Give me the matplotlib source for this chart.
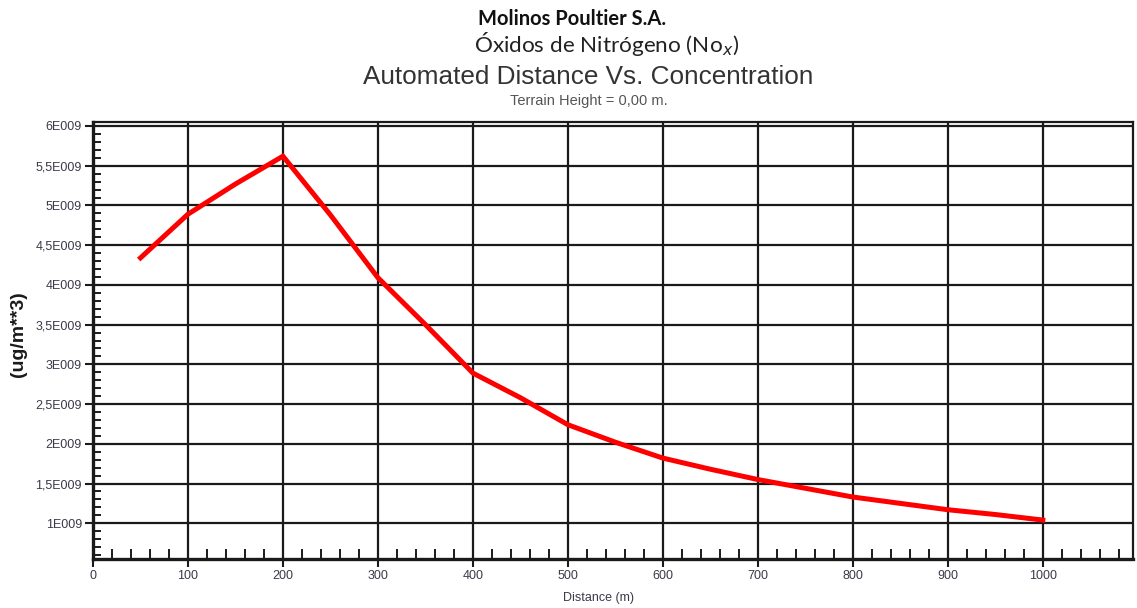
import matplotlib
matplotlib.use("Agg")
import matplotlib.pyplot as plt
from matplotlib.ticker import MultipleLocator, FuncFormatter

# distance (m) and concentration (ug/m**3)
distance = [50, 100, 150, 200, 250, 300, 350, 400, 450, 500,
            550, 600, 650, 700, 750, 800, 850, 900, 950, 1000]
concentration = [4.34e9, 4.89e9, 5.27e9, 5.62e9, 4.88e9, 4.09e9, 3.50e9, 2.89e9, 2.58e9, 2.24e9,
                 2.02e9, 1.82e9, 1.68e9, 1.55e9, 1.44e9, 1.33e9, 1.25e9, 1.17e9, 1.11e9, 1.04e9]

company = "Molinos Poultier S.A."
pollutant = "Óxidos de Nitrógeno (No$_x$)"
title = "Automated Distance Vs. Concentration"
subtitle = "Terrain Height = 0,00 m."

label_col = "#3a3a4a"


def sci_label(v, pos):
    # labels like 5,5E009
    m = v / 1e9
    if abs(m - round(m)) < 1e-6:
        s = "%d" % round(m)
    else:
        s = ("%.1f" % m).replace(".", ",")
    return s + "E009"


fig = plt.figure(figsize=(11.37, 6.08), dpi=100)
ax = fig.add_axes([0.0818, 0.0806, 0.9147, 0.7187])

ax.plot(distance, concentration, color="red", lw=3.6, solid_joinstyle="miter")

ax.set_xlim(0, 1095)
ax.set_ylim(0.55e9, 6.05e9)

ax.xaxis.set_major_locator(MultipleLocator(100))
ax.xaxis.set_minor_locator(MultipleLocator(20))
ax.yaxis.set_major_locator(MultipleLocator(0.5e9))
ax.yaxis.set_minor_locator(MultipleLocator(0.1e9))
ax.yaxis.set_major_formatter(FuncFormatter(sci_label))

ax.grid(True, which="major", color="#1a1a1a", lw=1.6)
ax.set_axisbelow(True)

ax.tick_params(which="major", direction="out", length=6, width=1.5, color="#1a1a1a",
               labelsize=9, labelcolor=label_col, pad=2)
ax.tick_params(which="minor", direction="in", length=6, width=1.4, color="#1a1a1a")
ax.tick_params(axis="x", which="minor", length=7)

for lab in ax.get_xticklabels() + ax.get_yticklabels():
    lab.set_family("Liberation Sans")

for side in ["left", "bottom"]:
    ax.spines[side].set_linewidth(2.4)
    ax.spines[side].set_color("#1a1a1a")
for side in ["top", "right"]:
    ax.spines[side].set_linewidth(1.6)
    ax.spines[side].set_color("#1a1a1a")

ax.set_xlabel("Distance (m)", fontsize=9, color=label_col, family="Liberation Sans")
ax.xaxis.set_label_coords(0.486, -0.076)
ax.set_ylabel("(ug/m**3)", fontsize=14, fontweight="bold", color="#1a1a1a",
              family="Liberation Sans")
ax.yaxis.set_label_coords(-0.063, 0.515)

fig.text(0.5035, 0.968, company, ha="center", va="center", fontsize=14.5,
         fontweight="bold", family="Lato", color="#111111")
fig.text(0.533, 0.927, pollutant, ha="center", va="center", fontsize=16.2,
         family="Lato", color="#222222")
fig.text(0.5176, 0.873, title, ha="center", va="center", fontsize=18.8,
         family="Liberation Sans", color="#333333")
fig.text(0.5176, 0.834, subtitle, ha="center", va="center", fontsize=10.5,
         family="Liberation Sans", color="#555555")

fig.savefig("out.png", dpi=100)
